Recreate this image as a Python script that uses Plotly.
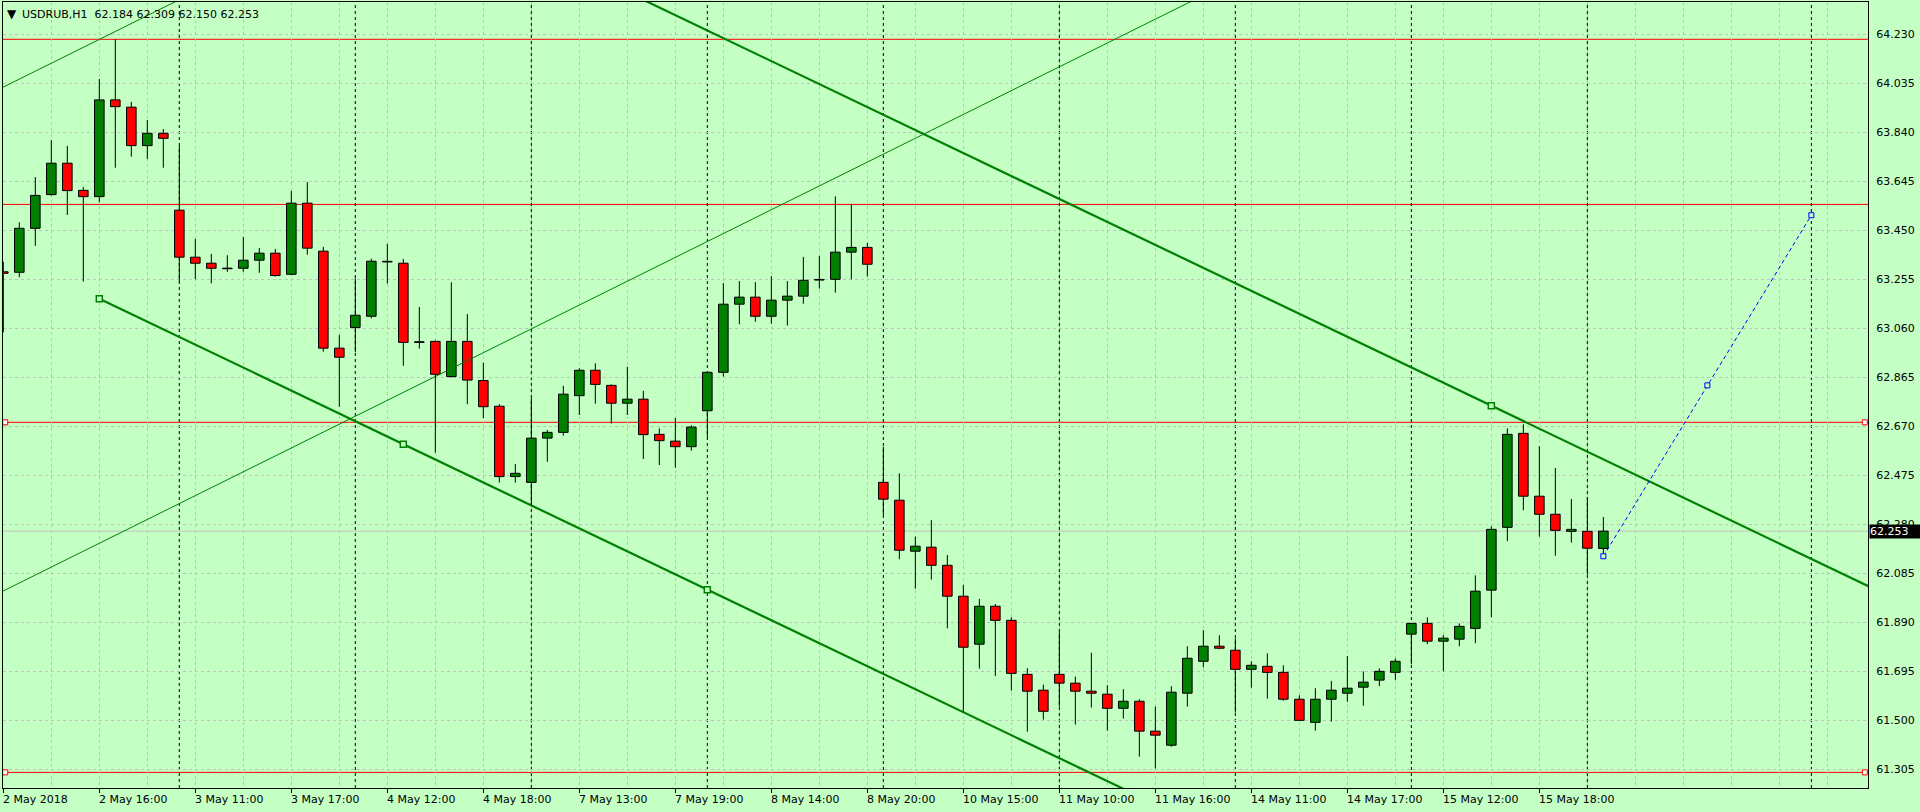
import plotly.graph_objects as go

# ---------------- data ----------------
symbol_title = "USDRUB,H1"
last_ohlc = [62.184, 62.309, 62.150, 62.253]

opens = [63.285, 63.283, 63.458, 63.592, 63.717, 63.609, 63.584, 63.969, 63.940, 63.787,
         63.836, 63.530, 63.343, 63.319, 63.297, 63.299, 63.331, 63.359, 63.275, 63.558,
         63.367, 62.981, 63.063, 63.108, 63.324, 63.319, 63.004, 63.008, 62.868, 63.008,
         62.852, 62.750, 62.470, 62.447, 62.623, 62.646, 62.792, 62.893, 62.833, 62.762,
         62.778, 62.638, 62.611, 62.589, 62.732, 62.885, 63.156, 63.184, 63.108, 63.172,
         63.188, 63.252, 63.255, 63.363, 63.382, 62.447, 62.376, 62.173, 62.189, 62.117,
         61.994, 61.803, 61.954, 61.898, 61.683, 61.620, 61.683, 61.648, 61.616, 61.604,
         61.548, 61.576, 61.457, 61.401, 61.608, 61.735, 61.795, 61.779, 61.703, 61.715,
         61.691, 61.584, 61.492, 61.584, 61.608, 61.632, 61.660, 61.691, 61.843, 61.886,
         61.815, 61.823, 61.866, 62.018, 62.268, 62.642, 62.392, 62.320, 62.252, 62.252,
         62.184]
highs = [63.325, 63.482, 63.662, 63.809, 63.786, 63.622, 64.052, 64.210, 63.961, 63.889,
         63.853, 63.786, 63.416, 63.356, 63.351, 63.423, 63.380, 63.376, 63.607, 63.642,
         63.384, 63.034, 63.259, 63.337, 63.396, 63.336, 63.145, 63.012, 63.243, 63.117,
         62.923, 62.758, 62.520, 62.782, 62.655, 62.831, 62.901, 62.921, 62.837, 62.907,
         62.811, 62.662, 62.703, 62.674, 62.886, 63.240, 63.248, 63.244, 63.268, 63.248,
         63.344, 63.348, 63.585, 63.555, 63.400, 62.589, 62.483, 62.231, 62.297, 62.158,
         62.039, 61.983, 61.963, 61.910, 61.708, 61.642, 61.851, 61.674, 61.769, 61.640,
         61.624, 61.584, 61.555, 61.636, 61.795, 61.859, 61.839, 61.826, 61.735, 61.767,
         61.719, 61.600, 61.628, 61.657, 61.756, 61.695, 61.707, 61.746, 61.886, 61.910,
         61.839, 61.886, 62.077, 62.272, 62.662, 62.678, 62.591, 62.504, 62.381, 62.386,
         62.309]
lows = [63.044, 63.263, 63.388, 63.588, 63.511, 63.246, 63.562, 63.699, 63.743, 63.734,
        63.699, 63.246, 63.255, 63.239, 63.285, 63.285, 63.281, 63.266, 63.271, 63.353,
        62.967, 62.748, 62.965, 63.100, 63.238, 62.911, 62.979, 62.565, 62.864, 62.758,
        62.703, 62.446, 62.446, 62.357, 62.529, 62.633, 62.715, 62.760, 62.681, 62.715,
        62.540, 62.516, 62.505, 62.573, 62.626, 62.868, 63.076, 63.086, 63.078, 63.071,
        63.158, 63.218, 63.202, 63.255, 63.266, 62.317, 62.141, 62.024, 62.060, 61.866,
        61.535, 61.706, 61.676, 61.618, 61.455, 61.503, 61.555, 61.483, 61.551, 61.459,
        61.507, 61.356, 61.308, 61.395, 61.555, 61.711, 61.783, 61.531, 61.630, 61.586,
        61.578, 61.500, 61.459, 61.495, 61.574, 61.558, 61.636, 61.661, 61.723, 61.803,
        61.695, 61.795, 61.807, 61.910, 62.213, 62.336, 62.231, 62.155, 62.207, 62.080,
        62.150]
closes = [63.279, 63.458, 63.589, 63.717, 63.608, 63.584, 63.969, 63.942, 63.787, 63.836,
          63.816, 63.343, 63.319, 63.299, 63.297, 63.331, 63.359, 63.270, 63.558, 63.379,
          62.981, 62.945, 63.112, 63.327, 63.324, 63.004, 63.004, 62.877, 63.008, 62.854,
          62.748, 62.470, 62.483, 62.623, 62.646, 62.798, 62.893, 62.837, 62.762, 62.778,
          62.637, 62.613, 62.589, 62.667, 62.885, 63.156, 63.184, 63.108, 63.172, 63.188,
          63.251, 63.252, 63.363, 63.382, 63.315, 62.380, 62.177, 62.193, 62.117, 61.994,
          61.791, 61.954, 61.898, 61.687, 61.616, 61.536, 61.648, 61.616, 61.608, 61.548,
          61.576, 61.457, 61.441, 61.612, 61.747, 61.795, 61.787, 61.703, 61.719, 61.691,
          61.584, 61.500, 61.584, 61.620, 61.628, 61.652, 61.695, 61.735, 61.886, 61.815,
          61.827, 61.874, 62.014, 62.260, 62.638, 62.392, 62.320, 62.256, 62.260, 62.185,
          62.253]

time_label_bars = [0, 6, 12, 18, 24, 30, 36, 42, 48, 54, 60, 66, 72, 78, 84, 90, 96]
time_labels = ["2 May 2018", "2 May 16:00", "3 May 11:00", "3 May 17:00", "4 May 12:00",
               "4 May 18:00", "7 May 13:00", "7 May 19:00", "8 May 14:00", "8 May 20:00",
               "10 May 15:00", "11 May 10:00", "11 May 16:00", "14 May 11:00", "14 May 17:00",
               "15 May 12:00", "15 May 18:00"]
separator_bars = [11, 22, 33, 44, 55, 66, 77, 88, 99, 113]

price_ticks = [61.305, 61.500, 61.695, 61.890, 62.085, 62.280, 62.475, 62.670,
               62.865, 63.060, 63.255, 63.450, 63.645, 63.840, 64.035, 64.230]
red_levels = [64.210, 63.553, 62.686, 61.293]
red_levels_selected = [62.686, 61.293]

# equidistant channel (thick): base line anchors + parallel anchor
channel_base_x = [6, 25, 44]
channel_base_y = [63.178, 62.599, 62.020]
channel_par_x = [93]
channel_par_y = [62.752]
# thin rising channel: two points of lower line, offset of upper line
thin_x = [0, 50]
thin_lower_y = [62.015, 63.595]
thin_upper_offset = 2.005
# blue projection
blue_x = [100, 106.5, 113]
blue_y = [62.153, 62.833, 63.510]

# ---------------- styles ----------------
BG = "#C4FFC4"
GRID = "#C0C0C0"
BULL = "#008000"
BEAR = "#FF0000"
FONT = "DejaVu Sans"

n = len(opens)
xs = list(range(n))
x_range = [-0.019, 116.54]
y_range = [61.2308, 64.3585]

fig = go.Figure()

# thin rising channel lines
slope_thin = (thin_lower_y[1] - thin_lower_y[0]) / (thin_x[1] - thin_x[0])
def thin_at(x, off=0.0):
    return thin_lower_y[0] + slope_thin * (x - thin_x[0]) + off
for off in (0.0, thin_upper_offset):
    fig.add_trace(go.Scatter(x=[-2, 90], y=[thin_at(-2, off), thin_at(90, off)],
                             mode="lines", line=dict(color=BULL, width=1), hoverinfo="skip"))

# thick channel
slope_ch = (channel_base_y[-1] - channel_base_y[0]) / (channel_base_x[-1] - channel_base_x[0])
x_end = 125
fig.add_trace(go.Scatter(x=[channel_base_x[0], x_end],
                         y=[channel_base_y[0], channel_base_y[0] + slope_ch * (x_end - channel_base_x[0])],
                         mode="lines", line=dict(color=BULL, width=2.2), hoverinfo="skip"))
par0 = channel_par_y[0] + slope_ch * (channel_base_x[0] - channel_par_x[0])
fig.add_trace(go.Scatter(x=[channel_base_x[0], x_end],
                         y=[par0, par0 + slope_ch * (x_end - channel_base_x[0])],
                         mode="lines", line=dict(color=BULL, width=2.2), hoverinfo="skip"))
fig.add_trace(go.Scatter(x=channel_base_x + channel_par_x, y=channel_base_y + channel_par_y,
                         mode="markers",
                         marker=dict(symbol="square", size=6, color=BG,
                                     line=dict(color=BULL, width=1.5)), hoverinfo="skip"))

# candle bodies
body_base = [min(o, c) for o, c in zip(opens, closes)]
body_h = [max(abs(c - o), 0.0025) for o, c in zip(opens, closes)]
body_col = [BULL if c > o else (BEAR if c < o else "#000000") for o, c in zip(opens, closes)]
fig.add_trace(go.Bar(x=xs, y=body_h, base=body_base, width=0.6,
                     marker=dict(color=body_col, line=dict(color="#000000", width=1)),
                     hoverinfo="skip"))

# wicks
wx, wy = [], []
for i in range(n):
    top = max(opens[i], closes[i]); bot = min(opens[i], closes[i])
    if highs[i] > top:
        wx += [i, i, None]; wy += [top, highs[i], None]
    if lows[i] < bot:
        wx += [i, i, None]; wy += [bot, lows[i], None]
fig.add_trace(go.Scatter(x=wx, y=wy, mode="lines", line=dict(color="#000000", width=1),
                         hoverinfo="skip", connectgaps=False))

# blue projection
fig.add_trace(go.Scatter(x=blue_x, y=blue_y, mode="lines",
                         line=dict(color="#0000FF", width=1, dash="4px,3px"), hoverinfo="skip"))
fig.add_trace(go.Scatter(x=blue_x, y=blue_y, mode="markers",
                         marker=dict(symbol="square", size=5, color=BG,
                                     line=dict(color="#0000FF", width=1)), hoverinfo="skip"))

# red level selection squares
fig.add_trace(go.Scatter(x=[x_range[0] + 0.14] * len(red_levels_selected) + [x_range[1] - 0.2] * len(red_levels_selected),
                         y=red_levels_selected * 2, mode="markers",
                         marker=dict(symbol="square", size=5, color="#FFFFFF",
                                     line=dict(color=BEAR, width=1)), hoverinfo="skip",
                         cliponaxis=False))

shapes = []
# bid line
shapes.append(dict(type="line", xref="paper", x0=0, x1=1, yref="y", y0=closes[-1], y1=closes[-1],
                   line=dict(color="#C0C0C0", width=1), layer="below"))
for lv in red_levels:
    shapes.append(dict(type="line", xref="paper", x0=0, x1=1, yref="y", y0=lv, y1=lv,
                       line=dict(color=BEAR, width=1), layer="below"))
for s in separator_bars:
    shapes.append(dict(type="line", xref="x", x0=s, x1=s, yref="paper", y0=0, y1=1,
                       line=dict(color="#000000", width=1, dash="3px,3px"), layer="below"))

annotations = []
for b, t in zip(time_label_bars, time_labels):
    annotations.append(dict(x=b, xref="x", y=0, yref="paper", text=t, showarrow=False,
                            xanchor="left", yanchor="top", xshift=-2, yshift=-3,
                            font=dict(family=FONT, size=11, color="#000000")))
annotations.append(dict(x=0, xref="paper", y=1, yref="paper", text="▼", showarrow=False,
                        xanchor="left", yanchor="top", xshift=2, yshift=-3,
                        font=dict(family=FONT, size=12, color="#000000")))
annotations.append(dict(x=0, xref="paper", y=1, yref="paper",
                        text=symbol_title + "&nbsp;&nbsp;" + " ".join(f"{v:.3f}" for v in last_ohlc),
                        showarrow=False, xanchor="left", yanchor="top", xshift=17, yshift=-4,
                        font=dict(family=FONT, size=11, color="#000000")))
annotations.append(dict(x=1, xref="paper", y=closes[-1], yref="y", text=f"{closes[-1]:.3f}",
                        showarrow=False, xanchor="left", yanchor="middle", xshift=1,
                        bgcolor="#000000", borderpad=0, width=52, align="left", height=13,
                        font=dict(family=FONT, size=11, color="#FFFFFF")))

minor_vals = [v for v in range(3, 117, 3) if v not in time_label_bars]

fig.update_layout(
    width=1920, height=812, autosize=False,
    margin=dict(l=3, r=52, t=2, b=24),
    paper_bgcolor=BG, plot_bgcolor=BG,
    showlegend=False, hovermode=False, barmode="overlay",
    shapes=shapes, annotations=annotations,
    xaxis=dict(range=x_range, showgrid=True, gridcolor=GRID, griddash="3px,3px", gridwidth=1,
               tickvals=time_label_bars, ticktext=[""] * len(time_label_bars),
               ticks="outside", ticklen=4, tickcolor="#000000", tickwidth=1,
               showline=True, linecolor="#000000", linewidth=1, mirror=True, zeroline=False,
               minor=dict(tickvals=minor_vals, showgrid=True, gridcolor=GRID,
                          griddash="3px,3px", gridwidth=1, ticks="")),
    yaxis=dict(range=y_range, side="right", showgrid=True, gridcolor=GRID, griddash="3px,3px",
               tickvals=price_ticks, ticktext=[f"{v:.3f}" for v in price_ticks],
               ticks="outside", ticklen=5, tickcolor=BG,
               tickfont=dict(family=FONT, size=11, color="#000000"),
               showline=True, linecolor="#000000", linewidth=1, mirror=True, zeroline=False),
    font=dict(family=FONT, size=11, color="#000000"),
)

fig.write_html("out.html", config={"displayModeBar": False},
               post_script="document.body.style.margin='0';document.body.style.overflow='hidden';")
